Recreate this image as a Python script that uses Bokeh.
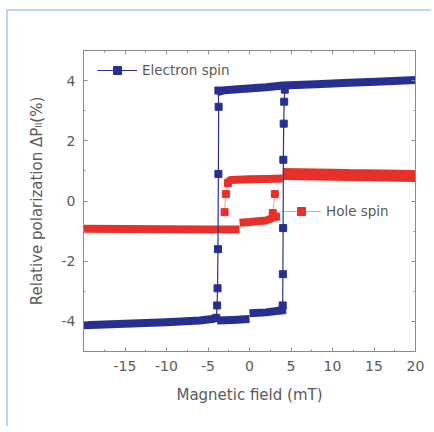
from bokeh.plotting import figure
from bokeh.models import Legend, LegendItem, LinearAxis, FixedTicker
from bokeh.embed import file_html
from bokeh.resources import INLINE

# ---------------- data ----------------
# Electron spin: plateau bands (dense data, drawn as thick bands)
e_top_x = [-3.85, -3.0, -1.0, 2.0, 4.0, 8.0, 12.0, 16.0, 20.0]
e_top_y = [3.62, 3.68, 3.72, 3.78, 3.84, 3.88, 3.93, 3.97, 4.02]
e_low1_x = [-20.0, -15.0, -10.0, -6.0, -4.5, -3.9]
e_low1_y = [-4.13, -4.08, -4.03, -3.97, -3.92, -3.88]
e_low2_x = [-3.9, -2.0, 0.0]
e_low2_y = [-3.97, -3.95, -3.92]
e_low3_x = [0.0, 2.0, 3.95]
e_low3_y = [-3.73, -3.70, -3.63]
# Electron spin: switching points
e_down_x = [-3.75, -3.72, -3.75, -3.80, -3.85, -3.90, -4.0]
e_down_y = [3.67, 3.13, 0.90, -1.60, -2.90, -3.47, -3.88]
e_up_x = [3.95, 4.0, 4.02, 4.05, 4.08, 4.12, 4.18, 4.25]
e_up_y = [-3.63, -3.47, -2.43, -0.90, 1.37, 2.57, 3.30, 3.70]

# Hole spin: plateau bands
h_low1_x = [-20.0, -15.0, -10.0, -5.0, -1.2]
h_low1_y = [-0.92, -0.93, -0.94, -0.95, -0.95]
h_low2_x = [-1.2, 0.0, 2.0, 3.2]
h_low2_y = [-0.72, -0.70, -0.65, -0.52]
h_top1_x = [-2.7, -2.3, 0.0, 2.0, 4.0]
h_top1_y = [0.60, 0.70, 0.72, 0.73, 0.75]
h_top2_x = [4.0, 8.0, 12.0, 16.0, 20.0]
h_top2_y = [0.90, 0.88, 0.86, 0.85, 0.83]
# Hole spin: switching points
h_down_x = [-2.6, -2.85, -3.0]
h_down_y = [0.60, 0.23, -0.37]
h_up_x = [3.2, 2.8, 3.05]
h_up_y = [-0.52, -0.40, 0.23]

x_major = [-20, -15, -10, -5, 0, 5, 10, 15, 20]
x_minor = [-17.5, -12.5, -7.5, -2.5, 2.5, 7.5, 12.5, 17.5]
x_labels = ["", "-15", "-10", "-5", "0", "5", "10", "15", "20"]
y_major = [-4, -2, 0, 2, 4]
y_minor = [-5, -3, -1, 1, 3, 5]
y_labels = ["-4", "-2", "0", "2", "4"]

BLUE = "#27308f"
RED = "#e8302a"
GRAY = "#5a5a5a"
AXC = "#8a8a8a"
FONT = "DejaVu Sans"

p = figure(frame_width=332, frame_height=301, x_range=(-20, 20), y_range=(-5, 5),
           output_backend="svg", toolbar_location=None,
           min_border_left=75, min_border_top=39, min_border_right=16, min_border_bottom=75)
p.styles = {"border-top": "2px solid #bcd7f0", "border-left": "2px solid #bcd7f0",
            "margin-left": "6px", "margin-top": "9px"}
p.background_fill_color = "white"
p.border_fill_color = "white"
p.outline_line_color = AXC
p.xgrid.visible = False
p.ygrid.visible = False

xt = FixedTicker(ticks=x_major, minor_ticks=x_minor)
yt = FixedTicker(ticks=y_major, minor_ticks=y_minor)


def style_axis(ax):
    ax.axis_line_color = AXC
    ax.major_tick_line_color = AXC
    ax.minor_tick_line_color = AXC
    ax.major_tick_in = 4
    ax.major_tick_out = 0
    ax.minor_tick_in = 2
    ax.minor_tick_out = 0
    ax.major_label_text_font = FONT
    ax.major_label_text_color = GRAY
    ax.major_label_text_font_size = "14px"
    ax.axis_label_text_font = FONT
    ax.axis_label_text_color = GRAY
    ax.axis_label_text_font_size = "15px"
    ax.axis_label_text_font_style = "normal"


p.xaxis.ticker = xt
p.yaxis.ticker = yt
style_axis(p.xaxis[0])
style_axis(p.yaxis[0])
p.xaxis.major_label_overrides = {t: s for t, s in zip(x_major, x_labels)}
p.yaxis.major_label_overrides = {t: s for t, s in zip(y_major, y_labels)}
p.xaxis.axis_label = "Magnetic field (mT)"
p.yaxis.axis_label = "Relative polarization ΔPₗₗ(%)"
p.xaxis.major_label_standoff = 9
p.xaxis.axis_label_standoff = 12
p.yaxis.major_label_standoff = 8
p.yaxis.axis_label_standoff = 13

top = LinearAxis(ticker=xt)
style_axis(top)
top.major_label_overrides = {t: "" for t in x_major}
top.major_label_standoff = 0
p.add_layout(top, "above")
right = LinearAxis(ticker=yt)
style_axis(right)
right.major_label_overrides = {t: "" for t in y_major}
right.major_label_standoff = 0
p.add_layout(right, "right")

# bands
p.multi_line([h_low1_x, h_low2_x, h_top1_x], [h_low1_y, h_low2_y, h_top1_y],
             line_color=RED, line_width=8, line_join="round")
p.line(h_top2_x, h_top2_y, line_color=RED, line_width=12)
p.multi_line([e_top_x, e_low1_x, e_low2_x, e_low3_x], [e_top_y, e_low1_y, e_low2_y, e_low3_y],
             line_color=BLUE, line_width=8, line_join="round")

# switching points
hl1 = p.line(h_down_x, h_down_y, line_color=RED, line_width=1, line_alpha=0.5)
p.line(h_up_x, h_up_y, line_color=RED, line_width=1, line_alpha=0.5)
hs1 = p.scatter(h_down_x, h_down_y, marker="square", size=7, color=RED)
p.scatter(h_up_x, h_up_y, marker="square", size=7, color=RED)

el1 = p.line(e_down_x, e_down_y, line_color=BLUE, line_width=1.2)
p.line(e_up_x, e_up_y, line_color=BLUE, line_width=1.2)
es1 = p.scatter(e_down_x, e_down_y, marker="square", size=7, color=BLUE)
p.scatter(e_up_x, e_up_y, marker="square", size=7, color=BLUE)

for items, loc in (([LegendItem(label="Electron spin", renderers=[el1, es1])], (14, 271)),
                   ([LegendItem(label="Hole spin", renderers=[hl1, hs1])], (198, 130))):
    lg = Legend(items=items, location=loc, glyph_width=40, glyph_height=20,
                label_standoff=5, padding=0, margin=0, spacing=0,
                background_fill_alpha=0, border_line_color=None,
                label_text_font=FONT, label_text_font_size="13.5px", label_text_color=GRAY)
    p.add_layout(lg, "center")

open("out.html", "w").write(file_html(p, INLINE))
